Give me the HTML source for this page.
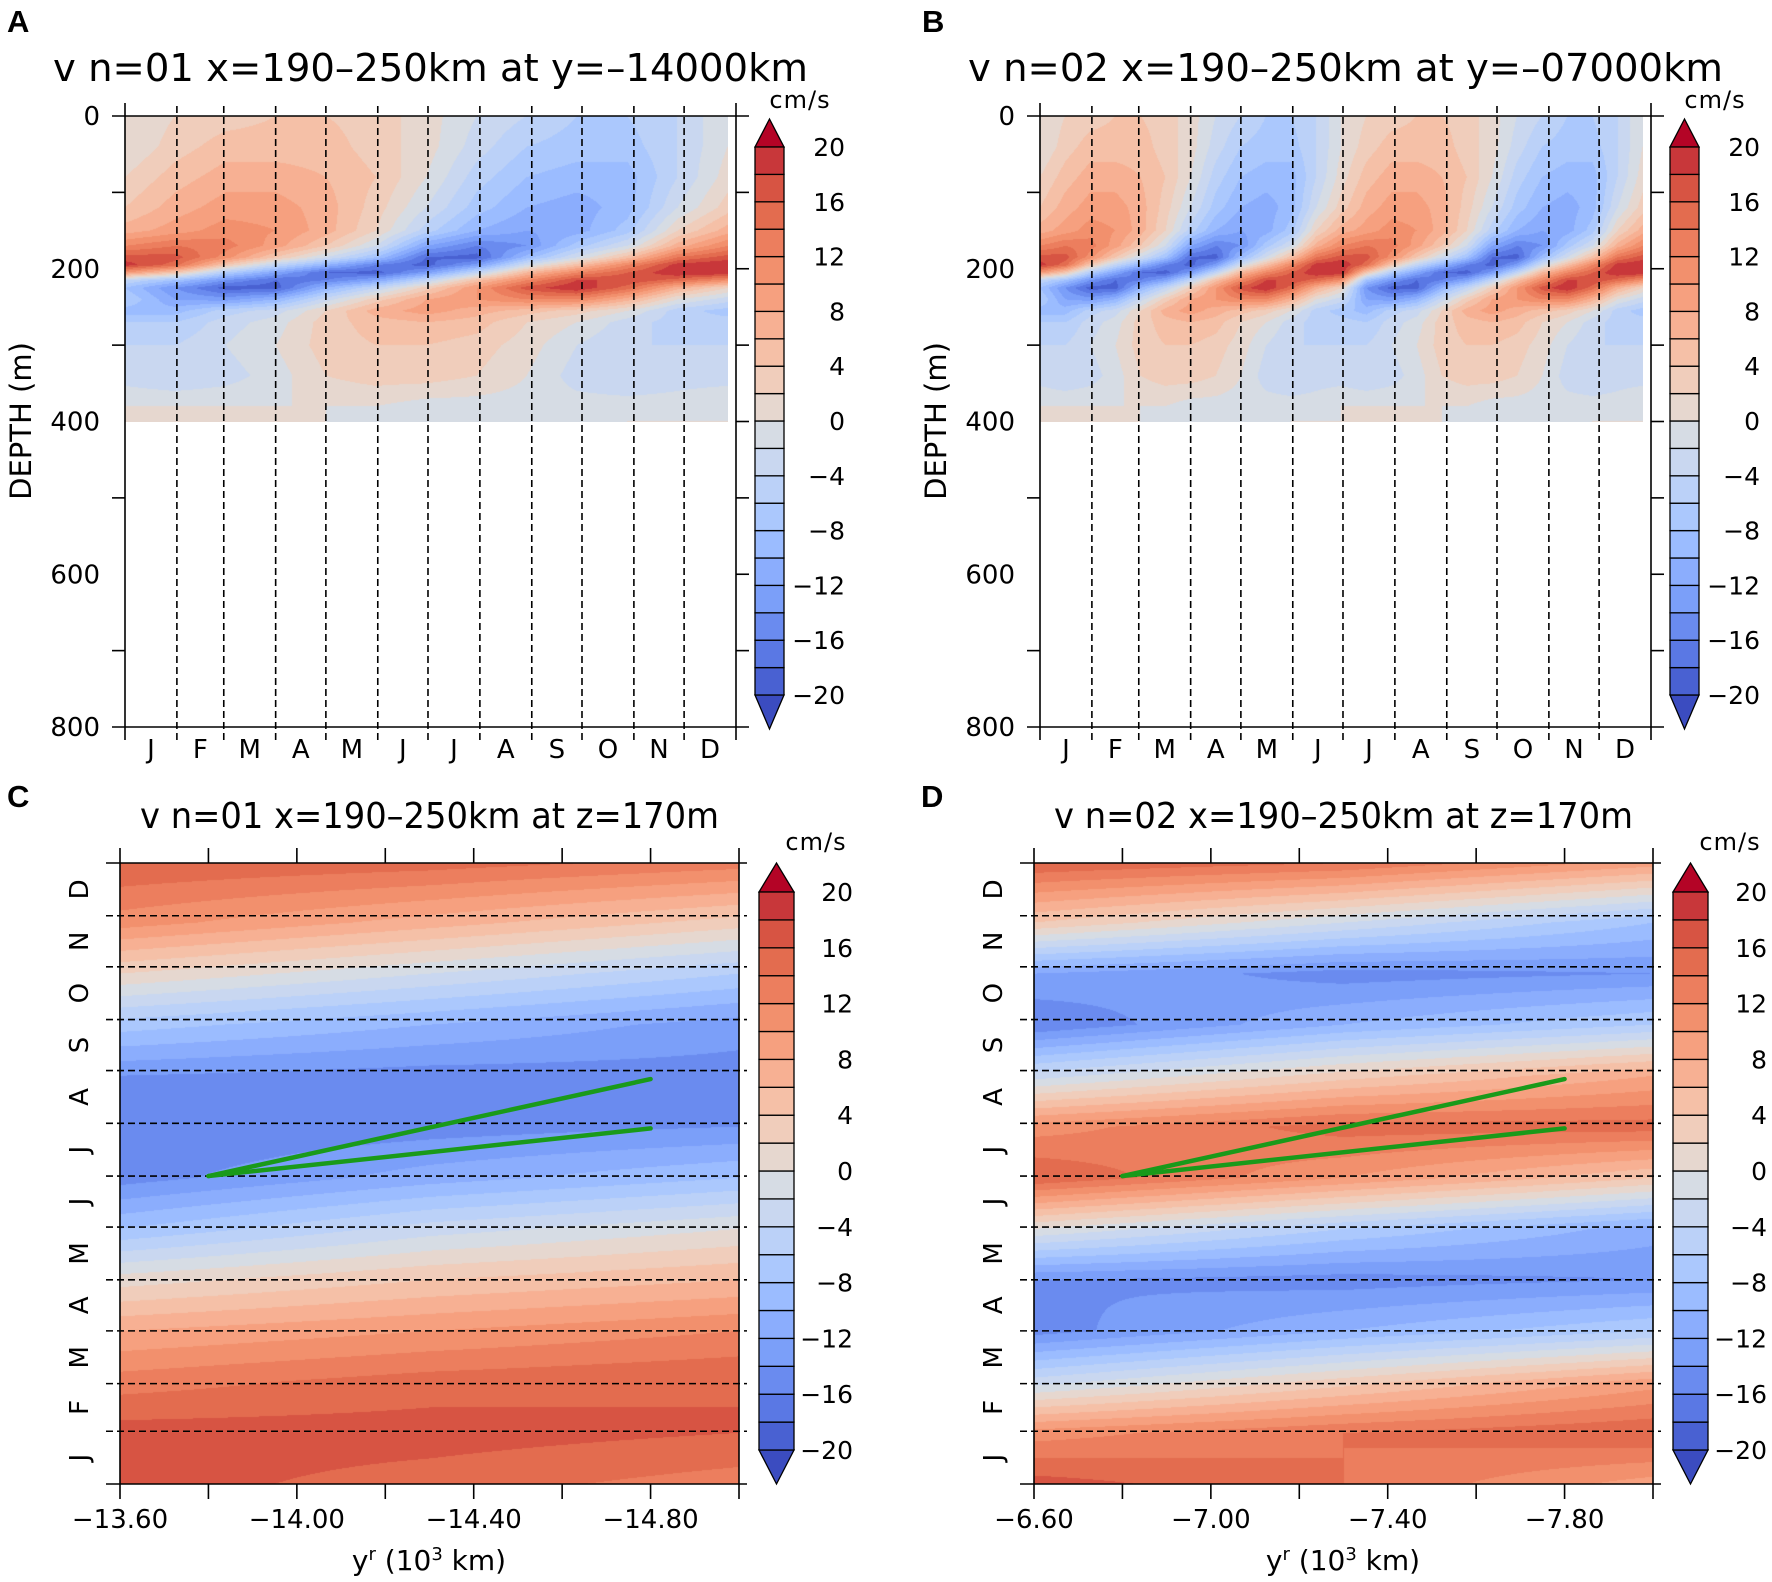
<!DOCTYPE html>
<html><head><meta charset="utf-8">
<style>
html,body{margin:0;padding:0;background:#fff;}
#wrap{position:relative;width:1772px;height:1582px;overflow:hidden;background:#fff;}
canvas{position:absolute;}
svg{position:absolute;left:0;top:0;}
text{font-family:"DejaVu Sans","Liberation Sans",sans-serif;fill:#000;}
</style></head>
<body>
<div id="wrap">
<canvas id="cA"></canvas>
<canvas id="cB"></canvas>
<canvas id="cC"></canvas>
<canvas id="cD"></canvas>
<svg id="svg" width="1772" height="1582" xmlns="http://www.w3.org/2000/svg"></svg>
</div>
<script>
// ---------------- DATA ----------------
const levels = [-20,-18,-16,-14,-12,-10,-8,-6,-4,-2,0,2,4,6,8,10,12,14,16,18,20];
const colorbarTicks = [20,16,12,8,4,0,-4,-8,-12,-16,-20];
const months = ["J","F","M","A","M","J","J","A","S","O","N","D"];
const monthStarts = [0,31,59,90,120,151,181,212,243,273,304,334,365];
const depthTicks = [0,200,400,600,800];
const depthNodes = [0,40,80,120,150,170,185,195,205,215,225,240,255,270,300,340,380,400];
const dayNodesA = [0,30,60,90,120,150,180,210,240,270,300,330,360];
// panel A: each row is one day node, values over depthNodes
const valuesA = [
 [0,0,2,4,7,12,17,19,10,-4,-8,-6,-9,-6,-4,-3,0,0],
 [2,3,5,7,9,14,17,15,4,-8,-14,-12,-9,-6,-4,-4,0,0],
 [3,5,7,9,11,13,11,4,-6,-14,-19,-13,-5,-3,-2,-3,0,1],
 [4,5,7,9,10,9,4,-4,-12,-18,-19,-10,-3,-1,0,-1,0,1],
 [4,5,6,7,7,4,-2,-10,-18,-16,-10,-3,2,3,3,2,0,0],
 [3,3,4,3,2,-2,-8,-16,-19,-12,-4,3,7,5,4,3,0,-1],
 [1,1,0,-2,-5,-12,-18,-19,-13,-4,3,8,9,6,4,3,-1,-1],
 [-2,-3,-5,-7,-10,-16,-19,-13,-4,5,10,10,7,5,3,2,-1,-1],
 [-4,-6,-8,-10,-12,-14,-9,-2,6,12,17,12,5,2,1,0,-1,-1],
 [-6,-7,-9,-11,-11,-7,-2,5,12,18,20,12,3,0,-2,-3,-1,-1],
 [-6,-7,-9,-9,-7,-2,5,12,16,18,15,7,0,-3,-4,-4,-1,0],
 [-4,-4,-4,-2,2,7,14,19,20,15,7,0,-5,-5,-4,-3,-1,0],
 [0,0,1,3,7,12,17,20,20,11,2,-3,-7,-5,-4,-3,0,0]
];
const dayNodesB = [0,15,30,45,60,75,90,105,120,135,150,165,180,195,210,225,240,255,270,285,300,315,330,345,360];
const valuesB = [
 [0,0,2,4,7,12,17,19,10,-4,-8,-6,-9,-6,-4,-3,0,0],
 [2,3,5,7,9,14,17,15,4,-8,-14,-12,-9,-6,-4,-4,0,0],
 [3,5,7,9,11,13,11,4,-6,-14,-19,-13,-5,-3,-2,-3,0,1],
 [4,5,7,9,10,9,4,-4,-12,-18,-19,-10,-3,-1,0,-1,0,1],
 [4,5,6,7,7,4,-2,-10,-18,-16,-10,-3,2,3,3,2,0,0],
 [3,3,4,3,2,-2,-8,-16,-19,-12,-4,3,7,5,4,3,0,-1],
 [1,1,0,-2,-5,-12,-18,-19,-13,-4,3,8,9,6,4,3,-1,-1],
 [-2,-3,-5,-7,-10,-16,-19,-13,-4,5,10,10,7,5,3,2,-1,-1],
 [-4,-6,-8,-10,-12,-14,-9,-2,6,12,17,12,5,2,1,0,-1,-1],
 [-6,-7,-9,-11,-11,-7,-2,5,12,18,20,12,3,0,-2,-3,-1,-1],
 [-6,-7,-9,-9,-7,-2,5,12,16,18,15,7,0,-3,-4,-4,-1,0],
 [-4,-4,-4,-2,2,7,14,19,20,15,7,0,-5,-5,-4,-3,-1,0],
 [0,0,1,3,7,12,17,20,20,11,2,-3,-7,-5,-4,-3,0,0],
 [2,3,5,7,9,14,17,15,4,-8,-14,-12,-9,-6,-4,-4,0,0],
 [3,5,7,9,11,13,11,4,-6,-14,-19,-13,-5,-3,-2,-3,0,1],
 [4,5,7,9,10,9,4,-4,-12,-18,-19,-10,-3,-1,0,-1,0,1],
 [4,5,6,7,7,4,-2,-10,-18,-16,-10,-3,2,3,3,2,0,0],
 [3,3,4,3,2,-2,-8,-16,-19,-12,-4,3,7,5,4,3,0,-1],
 [1,1,0,-2,-5,-12,-18,-19,-13,-4,3,8,9,6,4,3,-1,-1],
 [-2,-3,-5,-7,-10,-16,-19,-13,-4,5,10,10,7,5,3,2,-1,-1],
 [-4,-6,-8,-10,-12,-14,-9,-2,6,12,17,12,5,2,1,0,-1,-1],
 [-6,-7,-9,-11,-11,-7,-2,5,12,18,20,12,3,0,-2,-3,-1,-1],
 [-6,-7,-9,-9,-7,-2,5,12,16,18,15,7,0,-3,-4,-4,-1,0],
 [-4,-4,-4,-2,2,7,14,19,20,15,7,0,-5,-5,-4,-3,-1,0],
 [0,0,1,3,7,12,17,20,20,11,2,-3,-7,-5,-4,-3,0,0]
];
// panels C/D: time series at three y^r positions
const dayNodesCD = [0,30,60,90,120,150,180,210,240,270,300,330,365];
const yrNodesC = [-13.6,-14.3,-15.0];
const cLeft  = [17,17,13,8,1,-8,-15,-16,-14,-7,2,11,16];
const cMid   = [15,17,15,10,4,-3,-11,-15,-15,-10,-2,7,15];
const cRight = [13,16,16,12,6,0,-8,-14,-15,-13,-6,3,13];
const yrNodesD = [-6.6,-7.3,-8.0];
const dLeft  = [17,11,-3,-15,-14,0,16,11,-3,-16,-12,4,16];
const dMid   = [14,14,3,-10,-15,-6,10,15,3,-10,-15,-2,14];
const dRight = [9,16,9,-6,-14,-11,4,15,8,-6,-14,-8,9];
const xTicksC = [-13.6,-13.8,-14.0,-14.2,-14.4,-14.6,-14.8,-15.0];
const xTicksD = [-6.6,-6.8,-7.0,-7.2,-7.4,-7.6,-7.8,-8.0];
// green phase lines
const greenC_yr0 = [-13.8,-13.8], greenC_d0 = [181,181], greenC_yr1 = [-14.8,-14.8], greenC_d1 = [238,209];
const greenD_yr0 = [-6.8,-6.8], greenD_d0 = [181,181], greenD_yr1 = [-7.8,-7.8], greenD_d1 = [238,209];

const palette = ['#3b4cc0','#4961d2','#5a78e4','#6a8bef','#7b9ff9','#8badfd','#9bbcff','#abc8fd','#bbd1f8','#c9d7f0','#d6dce4',
 '#e6d7cf','#f0cdbb','#f5c0a7','#f7b093','#f6a07f','#f2906d','#ec7e5e','#e36c4f','#d75443','#c8373a','#b40426'];

// ---------------- HELPERS ----------------
const NS = 'http://www.w3.org/2000/svg';
const svg = document.getElementById('svg');
function mk(tag, attrs, parent){
  const e = document.createElementNS(NS, tag);
  for (const k in attrs) e.setAttribute(k, attrs[k]);
  (parent||svg).appendChild(e);
  return e;
}
function colorIdx(v){
  let i = Math.floor((v + 20) / 2) + 1;
  if (v < -20) i = 0;
  if (i < 0) i = 0; if (i > 21) i = 21;
  return i;
}
function hexRgb(h){return [parseInt(h.substr(1,2),16),parseInt(h.substr(3,2),16),parseInt(h.substr(5,2),16)];}
const palRgb = palette.map(hexRgb);
function seg(nodes, v){
  let i = 0;
  while (i < nodes.length - 2 && v > nodes[i+1]) i++;
  let f = (v - nodes[i]) / (nodes[i+1] - nodes[i]);
  if (f < 0) f = 0; if (f > 1) f = 1;
  return [i, f];
}
function bilinear(xn, yn, grid, x, y){
  const [i, fx] = seg(xn, x), [j, fy] = seg(yn, y);
  const a = grid[i][j], b = grid[i+1][j], c = grid[i][j+1], d = grid[i+1][j+1];
  return (a*(1-fx)+b*fx)*(1-fy) + (c*(1-fx)+d*fx)*fy;
}
function paint(id, x0, y0, w, h, fn){
  const cv = document.getElementById(id);
  cv.width = w; cv.height = h;
  cv.style.left = x0 + 'px'; cv.style.top = y0 + 'px';
  const ctx = cv.getContext('2d');
  const img = ctx.createImageData(w, h);
  for (let py = 0; py < h; py++) for (let px = 0; px < w; px++){
    const v = fn(x0 + px + 0.5, y0 + py + 0.5);
    const c = palRgb[colorIdx(v)];
    const k = (py*w + px)*4;
    img.data[k]=c[0]; img.data[k+1]=c[1]; img.data[k+2]=c[2]; img.data[k+3]=255;
  }
  ctx.putImageData(img, 0, 0);
}
function txt(s, x, y, size, anchor, parent, extra){
  const t = mk('text', Object.assign({x:x, y:y, 'font-size':size, 'text-anchor':anchor||'middle'}, extra||{}), parent);
  t.textContent = s;
  return t;
}

function colorbar(g, cx0, cw, tipTop, boxTop, boxBot, tipBot, labelX, unitX, unitY){
  const n = levels.length - 1;
  const yOf = v => boxTop + (20 - v) / 40 * (boxBot - boxTop);
  const top = mk('polygon', {points:`${cx0},${boxTop} ${cx0+cw},${boxTop} ${cx0+cw/2},${tipTop}`, fill:palette[21], stroke:'#000','stroke-width':1.3}, g);
  
  
  const bot = mk('polygon', {points:`${cx0},${boxBot} ${cx0+cw},${boxBot} ${cx0+cw/2},${tipBot}`, fill:palette[0], stroke:'#000','stroke-width':1.3}, g);
  
  
  for (let i = 0; i < n; i++){
    const lo = levels[i], hi = levels[i+1];
    const r = mk('rect', {x:cx0, y:yOf(hi), width:cw, height:yOf(lo)-yOf(hi), fill:palette[colorIdx((lo+hi)/2)], stroke:'#000','stroke-width':1.3}, g);
    
    
  }
  colorbarTicks.forEach(v => {
    const t = txt(String(v).replace('-', '\u2212'), labelX, yOf(v) + 9, 25, 'end', g);
    
    
  });
  const u = txt('cm/s', unitX, unitY, 24, 'middle', g, {'letter-spacing':'1'});
  
  
}

// ---------------- DEPTH PANELS (A, B) ----------------
function depthPanel(off, letter, title, canvasId, dayNodes, values){
  const g = mk('g', {});
  
  
  const X0 = 125 + off, X1 = 736 + off, Y0 = 116, Y1 = 727;
  const sx = d => X0 + d / 365 * (X1 - X0);
  const sy = z => Y0 + z / 800 * (Y1 - Y0);
  const dEnd = dayNodes[dayNodes.length-1];
  const px0 = Math.round(sx(0)), px1 = Math.round(sx(dEnd)), py0 = Math.round(sy(0)), py1 = Math.round(sy(400));
  paint(canvasId, px0, py0, px1 - px0, py1 - py0, (x, y) => {
    const d = (x - X0) / (X1 - X0) * 365, z = (y - Y0) / (Y1 - Y0) * 800;
    return bilinear(dayNodes, depthNodes, values, d, z);
  });
  for (let m = 1; m < 12; m++){
    const l = mk('line', {x1:sx(monthStarts[m]), x2:sx(monthStarts[m]), y1:Y0-10, y2:Y1+13, stroke:'#000','stroke-width':1.6,'stroke-dasharray':'7,4'}, g);
    
    
  }
  const ax = mk('g', {stroke:'#000','stroke-width':1.6}, g);
  
  
  mk('line', {x1:X0-13, x2:X1+13, y1:Y0, y2:Y0}, ax);
  mk('line', {x1:X0-13, x2:X1+13, y1:Y1, y2:Y1}, ax);
  mk('line', {x1:X0, x2:X0, y1:Y0-13, y2:Y1+13}, ax);
  mk('line', {x1:X1, x2:X1, y1:Y0-13, y2:Y1+13}, ax);
  for (let z = 100; z < 800; z += 200){
    mk('line', {x1:X0-13, x2:X0, y1:sy(z), y2:sy(z)}, ax);
    mk('line', {x1:X1, x2:X1+13, y1:sy(z), y2:sy(z)}, ax);
  }
  for (let z = 200; z < 800; z += 200){
    mk('line', {x1:X1, x2:X1+13, y1:sy(z), y2:sy(z)}, ax);
  }
  depthTicks.forEach(z => {
    const t = txt(String(z), X0 - 25, sy(z) + 9, 26, 'end', g);
    
    
  });
  months.forEach((m, i) => {
    const t = txt(m, sx((monthStarts[i] + monthStarts[i+1]) / 2), Y1 + 31, 26, 'middle', g);
    
    
  });
  const yt = txt('DEPTH (m)', 0, 0, 29, 'middle', g, {transform:`translate(${31+off},${421}) rotate(-90)`});
  
  
  const tt = txt(title, 53 + off, 81, 38, 'start', g, {textLength:755, lengthAdjust:'spacingAndGlyphs'});
  
  
  const lt = txt(letter, 7 + off, 32, 31, 'start', g, {'font-weight':'bold', style:'font-family:"Liberation Sans",sans-serif'});
  
  
  colorbar(g, 755 + off, 29, 119, 147, 695, 729, 845 + off, 800 + off, 108);
}

// ---------------- TIME-Y PANELS (C, D) ----------------
function timePanel(off, letter, title, canvasId, yrNodes, sLeft, sMid, sRight, xTicks, gy0, gd0, gy1, gd1){
  const g = mk('g', {});
  
  
  const X0 = 120 + off, X1 = 739 + off, Y0 = 863, Y1 = 1484;
  const yrA = xTicks[0], yrB = xTicks[xTicks.length-1];
  const sx = v => X0 + (v - yrA) / (yrB - yrA) * (X1 - X0);
  const sy = d => Y1 - d / 365 * (Y1 - Y0);
  const grid = [sLeft, sMid, sRight];
  const xs = yrNodes.map(n => Math.abs(n - yrA));
  paint(canvasId, X0, Y0, X1 - X0, Y1 - Y0, (x, y) => {
    const v = yrA + (x - X0) / (X1 - X0) * (yrB - yrA);
    const d = (Y1 - y) / (Y1 - Y0) * 365;
    return bilinear(xs, dayNodesCD, grid, Math.abs(v - yrA), d);
  });
  for (let m = 1; m < 12; m++){
    const l = mk('line', {x1:X0-14, x2:X1+8, y1:sy(monthStarts[m]), y2:sy(monthStarts[m]), stroke:'#000','stroke-width':1.6,'stroke-dasharray':'7,4'}, g);
    
    
  }
  const ax = mk('g', {stroke:'#000','stroke-width':1.6}, g);
  
  
  mk('line', {x1:X0-14, x2:X1+8, y1:Y0, y2:Y0}, ax);
  mk('line', {x1:X0-14, x2:X1+8, y1:Y1, y2:Y1}, ax);
  mk('line', {x1:X0, x2:X0, y1:Y0, y2:Y1}, ax);
  mk('line', {x1:X1, x2:X1, y1:Y0, y2:Y1}, ax);
  xTicks.forEach(v => {
    mk('line', {x1:sx(v), x2:sx(v), y1:Y0-15, y2:Y0}, ax);
    mk('line', {x1:sx(v), x2:sx(v), y1:Y1, y2:Y1+15}, ax);
  });
  xTicks.forEach((v, i) => {
    if (i % 2) return;
    const t = txt(v.toFixed(2).replace('-', '\u2212'), sx(v), Y1 + 44, 26, 'middle', g);
    
    
  });
  months.forEach((m, i) => {
    const yc = sy((monthStarts[i] + monthStarts[i+1]) / 2);
    const t = txt(m, 0, 0, 26, 'middle', g, {transform:`translate(${88+off},${yc}) rotate(-90)`});
    
    
  });
  const xt = mk('text', {x:429 + off, y:1570, 'font-size':28, 'text-anchor':'middle'}, g);
  xt.innerHTML = 'y<tspan dy="-10" font-size="18">r</tspan><tspan dy="10"> (10</tspan><tspan dy="-10" font-size="18">3</tspan><tspan dy="10"> km)</tspan>';
  
  
  const tt = txt(title, 140 + off, 828, 36, 'start', g, {textLength:579, lengthAdjust:'spacingAndGlyphs'});
  
  
  const lt = txt(letter, 7 + off, 807, 31, 'start', g, {'font-weight':'bold', style:'font-family:"Liberation Sans",sans-serif'});
  
  
  for (let i = 0; i < gy0.length; i++){
    const l = mk('line', {x1:sx(gy0[i]), y1:sy(gd0[i]), x2:sx(gy1[i]), y2:sy(gd1[i]), stroke:'#1a9a1a','stroke-width':4.5,'stroke-linecap':'round'}, g);
    
    
  }
  colorbar(g, 759 + off, 35, 863, 892, 1450, 1484, 853 + off, 816 + off, 850);
}

depthPanel(0, 'A', 'v n=01 x=190\u2013250km at y=\u201314000km', 'cA', dayNodesA, valuesA);
depthPanel(915, 'B', 'v n=02 x=190\u2013250km at y=\u201307000km', 'cB', dayNodesB, valuesB);
timePanel(0, 'C', 'v n=01 x=190\u2013250km at z=170m', 'cC', yrNodesC, cLeft, cMid, cRight, xTicksC, greenC_yr0, greenC_d0, greenC_yr1, greenC_d1);
timePanel(914, 'D', 'v n=02 x=190\u2013250km at z=170m', 'cD', yrNodesD, dLeft, dMid, dRight, xTicksD, greenD_yr0, greenD_d0, greenD_yr1, greenD_d1);
</script>
</body></html>
